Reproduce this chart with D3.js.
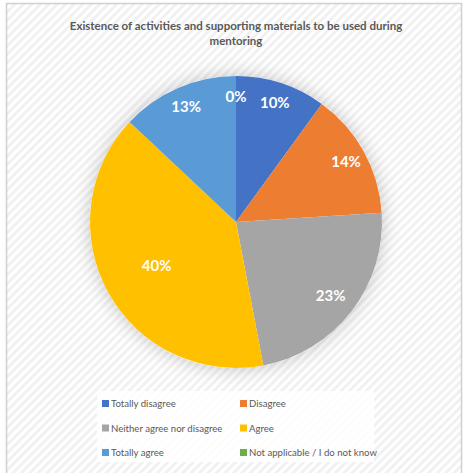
<!DOCTYPE html>
<html><head><meta charset="utf-8">
<script src="https://cdn.jsdelivr.net/npm/d3@7"></script>
<style>body{margin:0;background:#fff;}svg{display:block;}</style>
</head><body>
<script>
const categories = ["Totally disagree","Disagree","Neither agree nor disagree","Agree","Totally agree","Not applicable / I do not know"];
const values = [10,14,23,40,13,0];
const colors = ["#4472C4","#ED7D31","#A5A5A5","#FFC000","#5B9BD5","#70AD47"];
const titleLines = ["Existence of activities and supporting materials to be used during","mentoring"];

const W=466,H=473;
const svg=d3.select("body").append("svg").attr("width",W).attr("height",H);
const defs=svg.append("defs");
const pat=defs.append("pattern").attr("id","stripes").attr("patternUnits","userSpaceOnUse")
  .attr("width",6).attr("height",6).attr("patternTransform","rotate(-45)");
pat.append("rect").attr("width",6).attr("height",6).attr("fill","#ffffff");
pat.append("rect").attr("width",6).attr("height",3).attr("fill","#f1f1f1");
const f=defs.append("filter").attr("id","glow").attr("x","-30%").attr("y","-30%").attr("width","160%").attr("height","160%");
f.append("feDropShadow").attr("dx",0).attr("dy",0).attr("stdDeviation",9).attr("flood-color","#000").attr("flood-opacity",0.22);

svg.append("rect").attr("x",6.5).attr("y",3.5).attr("width",455).attr("height",480)
  .attr("fill","url(#stripes)").attr("stroke","#d0d0d0").attr("stroke-width",1.5);

const font="Lato, 'Open Sans', sans-serif";
svg.append("g").selectAll("text").data(titleLines).join("text")
  .attr("x",236).attr("y",(d,i)=>30+i*15).attr("text-anchor","middle")
  .attr("font-family",font).attr("font-weight","bold").attr("font-size",11.5).attr("fill","#595959").text(d=>d);

const cx=236,cy=222,R=146;
const pie=d3.pie().sort(null).value(d=>d)(values);
const arc=d3.arc().innerRadius(0).outerRadius(R);
const g=svg.append("g").attr("transform",`translate(${cx},${cy})`);
g.append("circle").attr("r",R).attr("fill","#fff").attr("filter","url(#glow)");
g.selectAll("path").data(pie).join("path").attr("d",arc).attr("fill",(d,i)=>colors[i]);
const total=d3.sum(values);
g.selectAll("text.lbl").data(pie).join("text").attr("class","lbl")
  .attr("transform",d=>{
    const frac=(d.endAngle-d.startAngle)/(2*Math.PI);
    const r=frac>0.3?R*0.62:(frac>0.2?R*0.82:R*0.86);
    const a=d3.arc().innerRadius(r).outerRadius(r);
    const c=a.centroid(d);
    return `translate(${c[0]},${c[1]})`;
  })
  .attr("text-anchor","middle").attr("dy","0.35em")
  .attr("font-family",font).attr("font-weight","bold").attr("font-size",15).attr("fill","#fff")
  .text(d=>Math.round(d.data/total*100)+"%");

// legend
const lg=svg.append("g");
lg.append("rect").attr("x",97).attr("y",391).attr("width",277).attr("height",71).attr("fill","#fff").attr("opacity",0.85);
const items=lg.selectAll("g").data(categories).join("g")
  .attr("transform",(d,i)=>`translate(${102+(i%2)*138},${404+Math.floor(i/2)*24.5})`);
items.append("rect").attr("x",0).attr("y",-4).attr("width",7).attr("height",7).attr("fill",(d,i)=>colors[i]);
items.append("text").attr("x",9).attr("y",0).attr("dy","0.35em")
  .attr("font-family",font).attr("font-size",9.6).attr("fill","#595959").text(d=>d);
</script>
</body></html>
